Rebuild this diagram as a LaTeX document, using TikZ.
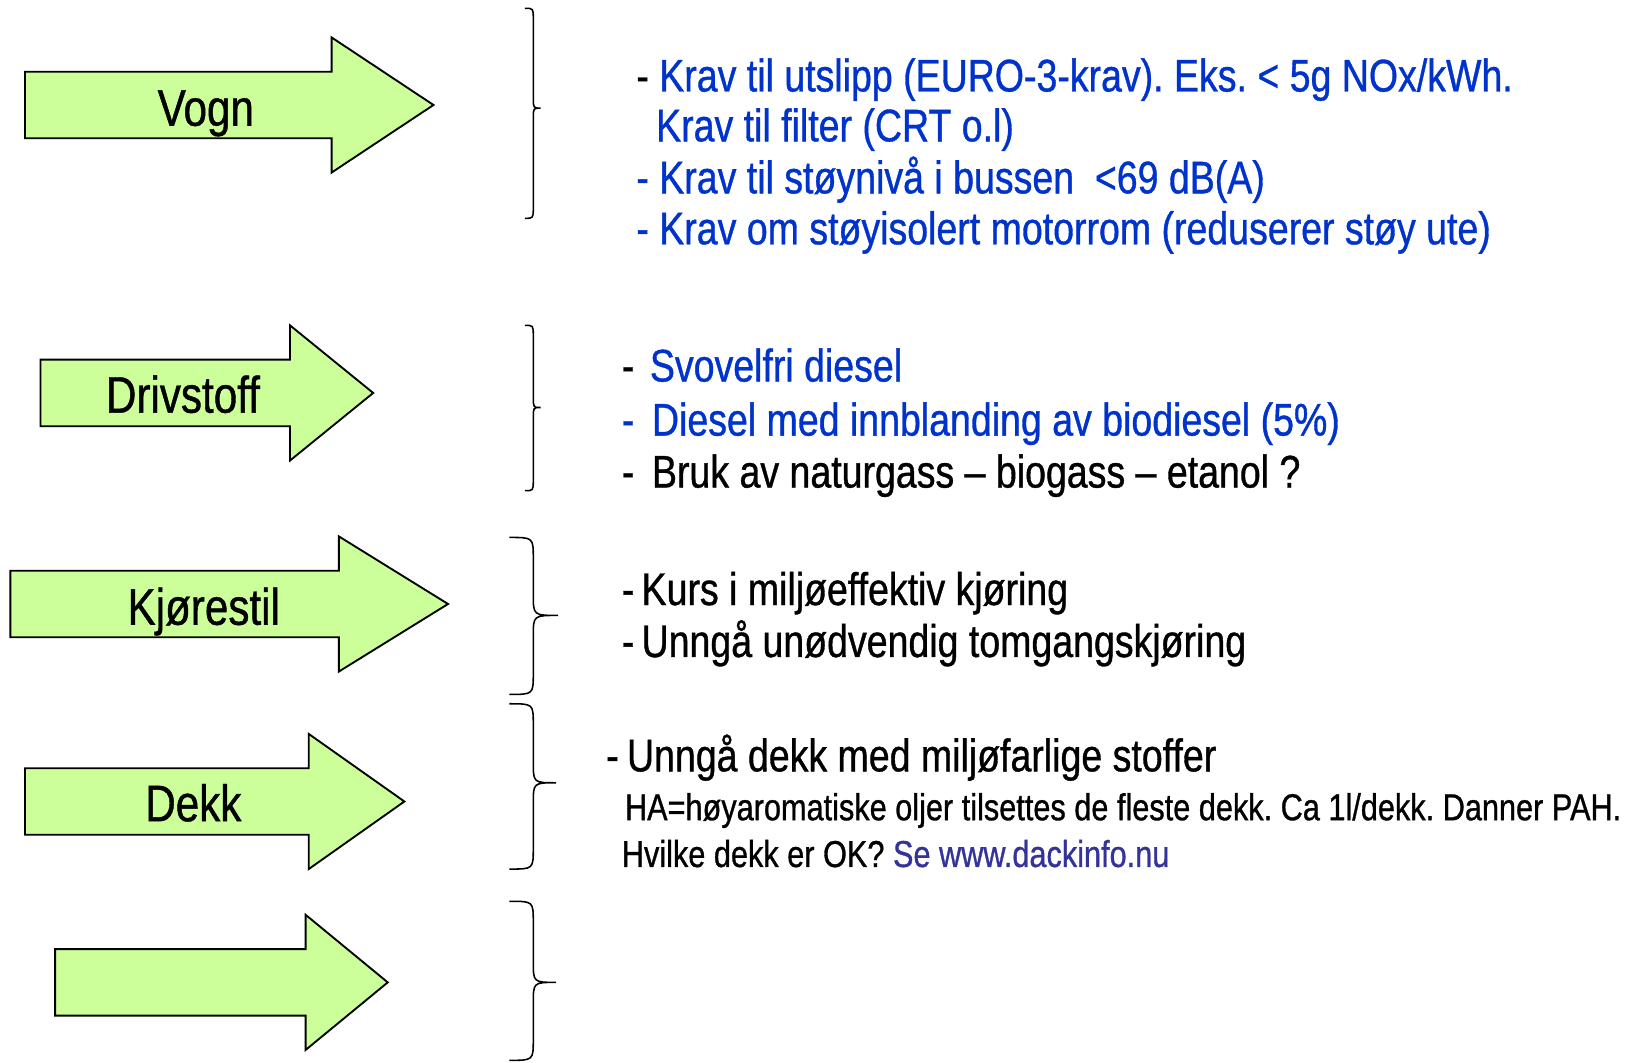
\documentclass[tikz,border=0pt]{standalone}
\usepackage{fontspec}
\setmainfont[FakeStretch=0.82, FakeBold=0.8]{Liberation Sans}
\definecolor{arrowgreen}{HTML}{CCFF99}
\definecolor{textblue}{HTML}{0033CC}
\definecolor{linkblue}{HTML}{333399}
\newcommand{\itemdash}[1]{\makebox[#1][l]{-}}
\frenchspacing

\tikzset{
  arrowbox/.style={draw=black, fill=arrowgreen, line width=1.8pt, line join=miter},
  bracket/.style={draw=black, line width=1.5pt},
  arrowtext/.style={anchor=base, inner sep=0pt, font=\fontsize{49.5}{58}\selectfont},
  bigtext/.style={anchor=base west, inner sep=0pt, font=\fontsize{44}{52}\selectfont},
  smalltext/.style={anchor=base west, inner sep=0pt, font=\fontsize{36}{42}\selectfont}
}

\begin{document}
\begin{tikzpicture}[x=1pt, y=-1pt]
\useasboundingbox (0,0) rectangle (1568,1022);
% Draw arrows
\foreach \xl/\xb/\xt/\yc in {24/319/417/101, 39/279/359/378, 10/326/431/581, 24/297/389/771, 53/294/373/945}
    \draw[arrowbox] (\xl,\yc-32) -- (\xb,\yc-32) -- (\xb,\yc-65) -- (\xt,\yc) -- (\xb,\yc+65) -- (\xb,\yc+32) -- (\xl,\yc+32) -- cycle;
% Arrow labels
\node[arrowtext] (vogn) at (198,121) {Vogn};
\node[arrowtext] (drivstoff) at (176,397) {Drivstoff};
\node[arrowtext] (kjorestil) at (196,601) {Kjørestil};
\node[arrowtext] (dekk) at (186,790) {Dekk};
% Draw braces
\foreach \xe/\xp/\yt/\ym/\yb/\rr in {505/520/8/104/210/10, 505/520/313/392/472/10, 490/537/517/592/668/20, 490/535/677/753/836/20, 490/535/867/945/1020/20}
    \draw[bracket] (\xe,\yt) .. controls (513,\yt) .. (513,\yt+\rr) -- (513,\ym-\rr) .. controls (513,\ym) .. (\xp,\ym) .. controls (513,\ym) .. (513,\ym+\rr) -- (513,\yb-\rr) .. controls (513,\yb) .. (\xe,\yb);
% Vogn text
\node[bigtext, text=textblue] (utslipp) at (612,88) {{\color{black}-} Krav til utslipp (EURO-3-krav). Eks. < 5g NOx/kWh.};
\node[bigtext, text=textblue] (filter) at (631,136) {Krav til filter (CRT o.l)};
\node[bigtext, text=textblue] (stoyniva) at (612,186) {- Krav til støynivå i bussen\ \ <69 dB(A)};
\node[bigtext, text=textblue] (motorrom) at (612,235) {- Krav om støyisolert motorrom (reduserer støy ute)};
% Drivstoff text
\node[bigtext, text=textblue] (svovelfri) at (598,367) {{\color{black}\itemdash{27pt}}Svovelfri diesel};
\node[bigtext, text=textblue] (biodiesel) at (598,419) {\itemdash{29pt}Diesel med innblanding av biodiesel (5\%)};
\node[bigtext] (naturgass) at (598,469) {\itemdash{29pt}Bruk av naturgass – biogass – etanol ?};
% Kjorestil text
\node[bigtext] (kurs) at (598,582) {\itemdash{19pt}Kurs i miljøeffektiv kjøring};
\node[bigtext] (tomgang) at (598,632) {\itemdash{19pt}Unngå unødvendig tomgangskjøring};
% Dekk text
\node[bigtext] (stoffer) at (583,742) {\itemdash{20pt}Unngå dekk med miljøfarlige stoffer};
\node[smalltext] (oljer) at (601,789) {HA=høyaromatiske oljer tilsettes de fleste dekk. Ca 1l/dekk. Danner PAH.};
\node[smalltext] (dackinfo) at (598,834) {Hvilke dekk er OK? \textcolor{linkblue}{Se www.dackinfo.nu}};
\end{tikzpicture}
\end{document}
